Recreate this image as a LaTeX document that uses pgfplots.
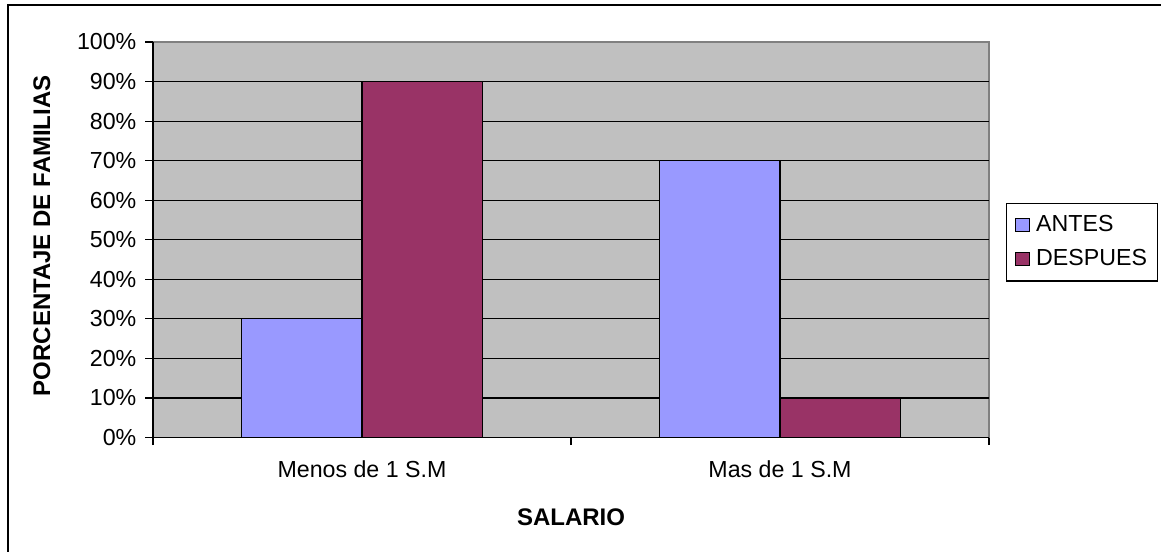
\documentclass[border=0pt]{standalone}
\usepackage{pgfplots}
\pgfplotsset{compat=1.18}
\usepackage{fontspec}
\setmainfont{Liberation Sans}
\definecolor{antes}{HTML}{9999FF}
\definecolor{despues}{HTML}{993366}
\definecolor{plotbg}{HTML}{C0C0C0}
\definecolor{plotborder}{HTML}{808080}
\begin{document}
\begin{tikzpicture}
\useasboundingbox (0,0) rectangle (580.5bp,-276bp);
\draw[line width=1.1bp, black] (4bp,-280bp) -- (4bp,-2.5bp) -- (585bp,-2.5bp);
\begin{axis}[
  at={(76.5bp,-218.75bp)}, anchor=south west,
  scale only axis, width=418bp, height=197.75bp,
  font=\fontsize{11.6bp}{13.9bp}\selectfont,
  xmin=-0.5, xmax=1.5, ymin=0, ymax=100,
  ybar=0pt, bar width=0.2875,
  axis x line*=bottom, axis y line*=left,
  axis line style={black, line width=0.6bp},
  axis background/.style={fill=plotbg, draw=plotborder, line width=0.9bp},
  xtick={-0.5,0.5,1.5}, xticklabels={},
  extra x ticks={0,1},
  extra x tick labels={Menos de 1 S.M, Mas de 1 S.M},
  extra x tick style={major tick length=0pt, grid=none},
  ytick={0,10,...,90},
  yticklabels={0\%,10\%,20\%,30\%,40\%,50\%,60\%,70\%,80\%,90\%},
  extra y ticks={100}, extra y tick labels={100\%},
  extra y tick style={grid=none},
  ymajorgrids, major grid style={black, line width=0.55bp},
  tick align=outside, major tick length=3.8bp,
  tick style={black, line width=0.6bp},
  xticklabel style={yshift=-8bp},
  yticklabel style={xshift=-1bp},
  xlabel={\bfseries SALARIO},
  ylabel={\bfseries PORCENTAJE DE FAMILIAS},
  xlabel style={at={(rel axis cs:0.5,-0.201)}, anchor=center, font=\fontsize{12bp}{14bp}\selectfont},
  ylabel style={at={(rel axis cs:-0.1328,0.51)}, anchor=center, font=\fontsize{12bp}{14bp}\selectfont},
  legend style={at={(rel axis cs:1.0203,0.593)}, anchor=north west,
    draw=black, line width=0.6bp, fill=white,
    inner xsep=0bp, inner ysep=4.5bp, row sep=4.5bp,
    font=\fontsize{11.6bp}{13.9bp}\selectfont,
    nodes={inner xsep=0bp, inner ysep=1.5bp}},
  legend cell align=left,
  legend image code/.code={\draw[#1, draw=black, line width=0.5bp] (4.5bp,-3bp) rectangle (11.5bp,3.5bp); \path[draw=none, fill=none] (0bp,0bp) -- (14.8bp,0bp);},
]
\addplot[fill=antes, draw=black, line width=0.55bp] coordinates {(0,30) (1,70)};
\addplot[fill=despues, draw=black, line width=0.55bp] coordinates {(0,90) (1,10)};
\legend{ANTES\kern5.3bp, DESPUES\kern5.3bp}
\end{axis}
\end{tikzpicture}
\end{document}
